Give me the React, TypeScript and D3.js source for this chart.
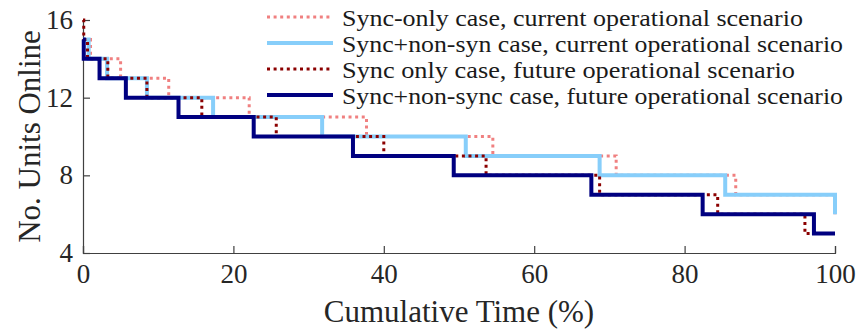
import React, { useEffect, useRef } from "react";
import * as d3 from "d3";

// step data (x: cumulative time %, y: units online)
const currentSyncX = [0, 1.0, 5.0, 11.4, 22.1, 37.7, 54.5, 70.9, 86.8, 100, 100];
const currentSyncY = [15, 14, 13, 12, 11, 10, 9, 8, 7, 7, 6];

const currentMixX = [0, 0.75, 3.2, 8.5, 17.3, 31.8, 50.9, 68.7, 85.4, 100, 100];
const currentMixY = [15, 14, 13, 12, 11, 10, 9, 8, 7, 7, 6];

const futureSyncX = [0, 0.1, 0.6, 3.3, 8.5, 15.8, 25.7, 40.0, 53.6, 68.7, 84.4, 96.0, 100];
const futureSyncY = [16, 15, 14, 13, 12, 11, 10, 9, 8, 7, 6, 5, 5];

const futureMixX = [0, 0.1, 2.2, 5.7, 12.7, 22.7, 35.9, 49.3, 67.6, 82.4, 97.2, 100];
const futureMixY = [15, 14, 13, 12, 11, 10, 9, 8, 7, 6, 5, 5];

const seriesNames = [
  "Sync-only case, current operational scenario",
  "Sync+non-syn case, current operational scenario",
  "Sync only case, future operational scenario",
  "Sync+non-sync case, future operational scenario",
];

const xTicks = [0, 20, 40, 60, 80, 100];
const yTicks = [4, 8, 12, 16];

const WIDTH = 857;
const HEIGHT = 330;
const margin = { top: 20, right: 22, bottom: 77, left: 83 };
const FONT = "'Liberation Serif', 'Times New Roman', serif";

const styles = [
  { color: "#f08080", width: 3, dash: "3,3.6" },
  { color: "#87cefa", width: 4, dash: null },
  { color: "#8b0000", width: 3, dash: "3,3.6" },
  { color: "#000080", width: 4, dash: null },
];
// widths of the legend texts as measured on the reference
const legendTextWidths = [461, 501, 453, 501];

export default function App() {
  const ref = useRef<SVGSVGElement>(null);

  useEffect(() => {
    document.body.style.margin = "0";
    const w = WIDTH - margin.left - margin.right;
    const h = HEIGHT - margin.top - margin.bottom;

    const svg = d3.select(ref.current);
    svg.selectAll("*").remove();
    const g = svg
      .append("g")
      .attr("transform", `translate(${margin.left},${margin.top})`);

    const x = d3.scaleLinear().domain([0, 100]).range([0, w]);
    const y = d3.scaleLinear().domain([4, 16]).range([h, 0]);

    const series = [
      d3.zip(currentSyncX, currentSyncY),
      d3.zip(currentMixX, currentMixY),
      d3.zip(futureSyncX, futureSyncY),
      d3.zip(futureMixX, futureMixY),
    ];

    const line = d3
      .line<number[]>()
      .x((d) => x(d[0]))
      .y((d) => y(d[1]))
      .curve(d3.curveStepAfter);

    // axes
    const xAxis = g
      .append("g")
      .attr("transform", `translate(0,${h})`)
      .call(d3.axisBottom(x).tickValues(xTicks).tickSize(-7).tickPadding(11));
    const yAxis = g
      .append("g")
      .call(d3.axisLeft(y).tickValues(yTicks).tickSize(-7).tickPadding(10));

    [xAxis, yAxis].forEach((a) => {
      a.select(".domain").attr("stroke", "#404040").attr("stroke-width", 1.2);
      a.selectAll(".tick line").attr("stroke", "#404040").attr("stroke-width", 1.2);
      a.selectAll(".tick text")
        .attr("font-family", FONT)
        .attr("font-size", 27)
        .attr("fill", "#262626");
    });

    // lines
    series.forEach((s, i) => {
      g.append("path")
        .datum(s)
        .attr("d", line)
        .attr("fill", "none")
        .attr("stroke", styles[i].color)
        .attr("stroke-width", styles[i].width)
        .attr("stroke-dasharray", styles[i].dash)
        .attr("stroke-linejoin", "miter");
    });

    // axis labels
    svg
      .append("text")
      .attr("x", margin.left + w / 2)
      .attr("y", 322)
      .attr("text-anchor", "middle")
      .attr("font-family", FONT)
      .attr("font-size", 31)
      .attr("fill", "#262626")
      .text("Cumulative Time (%)");

    svg
      .append("text")
      .attr("transform", `translate(40,${margin.top + h / 2}) rotate(-90)`)
      .attr("text-anchor", "middle")
      .attr("font-family", FONT)
      .attr("font-size", 31)
      .attr("fill", "#262626")
      .text("No. Units Online");

    // legend
    const leg = svg.append("g").attr("transform", "translate(267,26)");
    seriesNames.forEach((name, i) => {
      const row = leg.append("g").attr("transform", `translate(0,${i * 26})`);
      row
        .append("line")
        .attr("x1", 0)
        .attr("x2", 66)
        .attr("y1", -9)
        .attr("y2", -9)
        .attr("stroke", styles[i].color)
        .attr("stroke-width", styles[i].width)
        .attr("stroke-dasharray", styles[i].dash);
      row
        .append("text")
        .attr("x", 75)
        .attr("y", 0)
        .attr("font-family", FONT)
        .attr("font-size", 23)
        .attr("textLength", legendTextWidths[i])
        .attr("lengthAdjust", "spacingAndGlyphs")
        .attr("fill", "#1a1a1a")
        .text(name);
    });
  }, []);

  return <svg ref={ref} width={WIDTH} height={HEIGHT} style={{ display: "block" }} />;
}
